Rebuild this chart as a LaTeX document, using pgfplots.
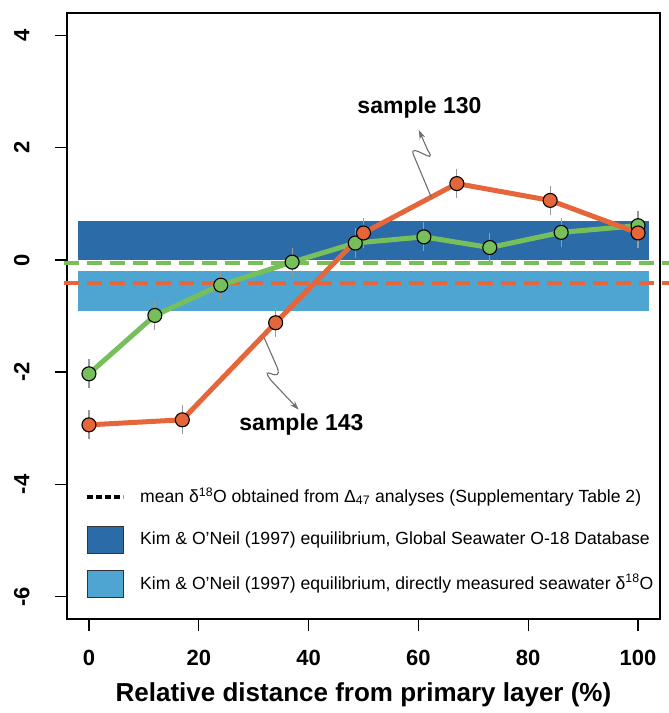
\documentclass[border=0pt]{standalone}
\usepackage{pgfplots}
\pgfplotsset{compat=1.18}
\usepackage{fontspec}
\setmainfont{Liberation Sans}
\usetikzlibrary{arrows.meta}
\definecolor{cgreen}{HTML}{76BF5B}
\definecolor{corange}{HTML}{E5663A}
\definecolor{cdark}{HTML}{2B6CA8}
\definecolor{clight}{HTML}{4EA5D1}
\definecolor{cgrey}{HTML}{6E6E6E}
\pgfplotstableread{
x y e
0 -2.03 0.26
12 -0.99 0.26
24 -0.45 0.26
37 -0.04 0.26
48.5 0.30 0.26
61 0.41 0.26
73 0.22 0.26
86 0.49 0.26
100 0.61 0.26
}\greendata
\pgfplotstableread{
x y e
0 -2.94 0.26
17 -2.85 0.26
34 -1.12 0.26
50 0.48 0.26
67 1.36 0.26
84 1.06 0.26
100 0.48 0.26
}\orangedata
\begin{document}
\begin{tikzpicture}
\begin{axis}[
  scale only axis, width=593pt, height=606pt,
  xmin=-4, xmax=104, ymin=-6.4, ymax=4.4,
  clip=false,
  axis line style={line width=1.3pt},
  xtick={0,20,40,60,80,100}, ytick={-6,-4,-2,0,2,4},
  xtick pos=bottom, ytick pos=left,
  tick align=outside, major tick length=12pt,
  tick style={line width=1.3pt, black},
  /pgf/number format/assume math mode=true,
  tick label style={font=\fontsize{22}{22}\selectfont\bfseries},
  yticklabel style={rotate=90, anchor=south, yshift=22pt},
  xticklabel style={yshift=-16pt},
  xlabel={\fontsize{26}{26}\selectfont\bfseries Relative distance from primary layer (\%)},
  xlabel style={yshift=-10pt},
]
% bands
\addplot[fill=cdark, draw=none] coordinates {(-2,0) (102,0) (102,0.70) (-2,0.70)} -- cycle;
\addplot[fill=clight, draw=none] coordinates {(-2,-0.20) (102,-0.20) (102,-0.91) (-2,-0.91)} -- cycle;
% mean lines
\addplot[cgreen, line width=4pt, dash pattern=on 15pt off 8pt] coordinates {(-4.6,-0.06) (106,-0.06)};
\addplot[corange, line width=4pt, dash pattern=on 15pt off 8pt] coordinates {(-4.6,-0.41) (106,-0.41)};
% green series
\addplot[cgreen, line width=5pt, line join=round] table[x=x,y=y] {\greendata};
\addplot[draw=none, mark=none, error bars/.cd, y dir=both, y explicit, error mark=none,
  error bar style={draw=gray!80, line width=1.1pt, solid}] table[x=x,y=y,y error=e] {\greendata};
\addplot[only marks, mark=*, mark size=7pt, mark options={fill=cgreen, draw=black, line width=1.1pt}] table[x=x,y=y] {\greendata};
% orange series
\addplot[corange, line width=5pt, line join=round] table[x=x,y=y] {\orangedata};
\addplot[draw=none, mark=none, error bars/.cd, y dir=both, y explicit, error mark=none,
  error bar style={draw=gray!80, line width=1.1pt, solid}] table[x=x,y=y,y error=e] {\orangedata};
\addplot[only marks, mark=*, mark size=7pt, mark options={fill=corange, draw=black, line width=1.1pt}] table[x=x,y=y] {\orangedata};
% annotations
\node[font=\fontsize{23}{23}\selectfont\bfseries] at (axis cs:60.2,2.72) {sample 130};
\node[font=\fontsize{23}{23}\selectfont\bfseries] at (axis cs:38.7,-2.94) {sample 143};
\draw[cgrey, line width=1.1pt, -{Stealth[length=9pt,width=6pt]}] (axis cs:62.35,1.116) -- (axis cs:59.12,1.868) .. controls (axis cs:58.03,2.135) and (axis cs:63.87,1.637) .. (axis cs:61.68,1.957) -- (axis cs:60.09,2.313);
\draw[cgrey, line width=1.1pt, -{Stealth[length=9pt,width=6pt]}] (axis cs:31.93,-1.393) -- (axis cs:34.31,-1.922) .. controls (axis cs:35.4,-2.242) and (axis cs:30.66,-1.815) .. (axis cs:33.21,-2.153) -- (axis cs:38.19,-2.669);
% legend
\draw[black, line width=4pt, dash pattern=on 6pt off 3pt] (axis cs:-0.36,-4.22) -- (axis cs:6.2,-4.22);
\fill[cdark, draw=black!80, line width=0.8pt] (axis cs:-0.36,-4.75) rectangle (axis cs:6.2,-5.23);
\fill[clight, draw=black!80, line width=0.8pt] (axis cs:-0.36,-5.53) rectangle (axis cs:6.2,-6.01);
\node[anchor=west, font=\fontsize{17.6}{17.6}\selectfont, inner sep=0pt] at (axis cs:9.3,-4.22) {mean δ\textsuperscript{18}O obtained from Δ\textsubscript{47} analyses (Supplementary Table 2)};
\node[anchor=west, font=\fontsize{17.6}{17.6}\selectfont, inner sep=0pt] at (axis cs:9.3,-4.99) {Kim \& O'Neil (1997) equilibrium, Global Seawater O-18 Database};
\node[anchor=west, font=\fontsize{17.6}{17.6}\selectfont, inner sep=0pt] at (axis cs:9.3,-5.77) {Kim \& O'Neil (1997) equilibrium, directly measured seawater δ\textsuperscript{18}O};
\end{axis}
\pgfresetboundingbox
\path (current axis.south west) ++(-67pt,-94pt) coordinate (bl);
\path (current axis.north east) ++(9pt,13pt) coordinate (tr);
\path (bl) rectangle (tr);
\end{tikzpicture}
\end{document}
